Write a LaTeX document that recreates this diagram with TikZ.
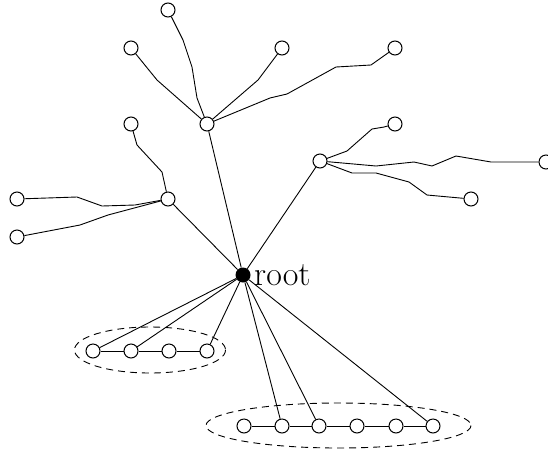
\documentclass[tikz,border=0pt]{standalone}
\usepackage{tikz}
\usetikzlibrary{positioning}

\begin{document}
\begin{tikzpicture}[x=1pt,y=-1pt,
  vertex/.style={circle,draw,fill=white,line width=1pt,minimum size=14pt,inner sep=0pt},
  rootv/.style={circle,fill=black,minimum size=15pt,inner sep=0pt},
  edge/.style={line width=0.9pt}]
\useasboundingbox (0,0) rectangle (548,453);

% the group ellipses
\draw [dashed, dash pattern=on 7pt off 5pt, line width=0.9pt] (150,350) ellipse (75.5 and 23);
\draw [dashed, dash pattern=on 7pt off 5pt, line width=0.9pt] (338.5,425.5) ellipse (132.5 and 22.5);

\node [rootv] (r) at (243,275) {};
\node [right=0pt of r, font=\fontsize{34}{40}\selectfont] (rl) {root};

\node [vertex] (a) at (207,124) {};
\node [vertex] (a1) at (168,10) {};
\node [vertex] (a2) at (131,48) {};
\node [vertex] (a3) at (282,48) {};
\node [vertex] (a4) at (395,48) {};

\node [vertex] (b) at (168,199) {};
\node [vertex] (b1) at (131,124) {};
\node [vertex] (b2) at (17,199) {};
\node [vertex] (b3) at (17,237) {};

\node [vertex] (c) at (320,161) {};
\node [vertex] (c1) at (395,124) {};
\node [vertex] (c2) at (546,162) {};
\node [vertex] (c3) at (471,199) {};

\foreach \n/\x in {p1/93,p2/131,p3/169,p4/207}
  \node [vertex] (\n) at (\x,351) {};
\foreach \n/\x in {q1/244,q2/282,q3/319,q4/357,q5/396,q6/433}
  \node [vertex] (\n) at (\x,426) {};

% root edges
\foreach \t in {a,b,c,p1,p2,p4,q2,q3,q6}
  \draw [edge] (r) -- (\t);

% chains
\foreach \s/\t in {p1/p2,p2/p3,p3/p4,q1/q2,q2/q3,q3/q4,q4/q5,q5/q6}
  \draw [edge] (\s) -- (\t);

% wiggly branches
\draw [edge] (a) -- (197,98) -- (192,67) -- (183,40) -- (172,18) -- (a1);
\draw [edge] (a) -- (157,80) -- (a2);
\draw [edge] (a) -- (258,80) -- (a3);
\draw [edge] (a) -- (270,98) -- (287,94) -- (336,67) -- (371,65) -- (a4);

\draw [edge] (b) -- (162,172) -- (137,145) -- (b1);
\draw [edge] (b) -- (135,205) -- (102,206) -- (77,197) -- (b2);
\draw [edge] (b) -- (108,215) -- (80,225) -- (b3);

\draw [edge] (c) -- (347,151) -- (372,129) -- (384,127) -- (c1);
\draw [edge] (c) -- (376,166) -- (414,162) -- (432,166) -- (456,156) -- (491,162) -- (c2);
\draw [edge] (c) -- (352,173) -- (376,173) -- (409,182) -- (427,195) -- (c3);

\end{tikzpicture}
\end{document}
